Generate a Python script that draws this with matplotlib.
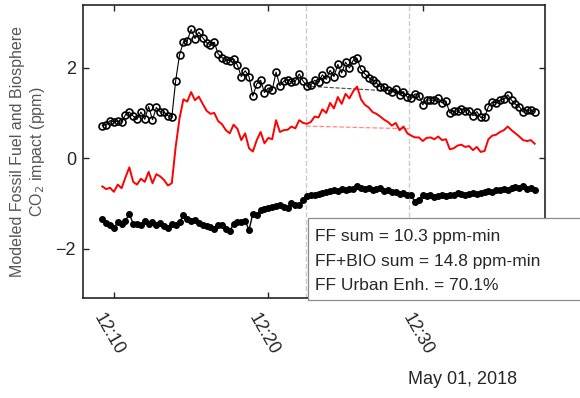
import numpy as np
import matplotlib
matplotlib.use("Agg")
import matplotlib.pyplot as plt
import matplotlib.dates as mdates
import matplotlib.transforms as mtransforms
from matplotlib.patches import Rectangle

plt.rcParams['font.family'] = ['Liberation Sans', 'DejaVu Sans']

# 15 s samples starting 12:09:15
start = np.datetime64('2018-05-01T12:09:15')
step = np.timedelta64(15, 's')

# fossil fuel enhancement (ppm)
ff = [0.72, 0.74, 0.83,
      0.80, 0.82, 0.79, 0.96,
      1.02, 0.93, 0.86, 1.02,
      0.86, 1.14, 0.85, 1.12,
      1.02, 1.02, 0.94, 0.90,
      1.71, 2.28, 2.56, 2.59,
      2.84, 2.64, 2.78, 2.66,
      2.55, 2.50, 2.56, 2.30,
      2.22, 2.17, 2.15, 2.19,
      2.05, 1.80, 1.93, 1.80,
      1.37, 1.64, 1.72, 1.45,
      1.55, 1.50, 1.90, 1.60,
      1.70, 1.73, 1.68, 1.70,
      1.86, 1.70, 1.60, 1.62,
      1.72, 1.68, 1.84, 1.74,
      1.94, 1.80, 2.07, 1.88,
      2.12, 1.99, 2.16, 2.20,
      1.96, 1.86, 1.78, 1.72,
      1.66, 1.58, 1.57, 1.50,
      1.46, 1.53, 1.40, 1.46,
      1.35, 1.32, 1.42, 1.38,
      1.18, 1.29, 1.28, 1.28,
      1.32, 1.22, 1.26, 1.00,
      1.04, 1.04, 1.08, 1.05,
      1.05, 0.94, 1.03, 0.90,
      0.90, 1.14, 1.24, 1.22,
      1.28, 1.30, 1.40, 1.28,
      1.19, 1.14, 1.02, 1.06,
      1.06, 1.02]

# fossil fuel + biosphere (ppm)
ff_bio = [-0.62, -0.68, -0.65,
          -0.74, -0.58, -0.66, -0.42,
          -0.20, -0.52, -0.58, -0.45,
          -0.52, -0.30, -0.55, -0.35,
          -0.40, -0.48, -0.60, -0.55,
          0.25, 0.88, 1.30, 1.25,
          1.46, 1.28, 1.36, 1.20,
          1.05, 0.98, 1.00, 0.82,
          0.75, 0.62, 0.55, 0.74,
          0.65, 0.40, 0.55, 0.22,
          0.15, 0.40, 0.58, 0.33,
          0.45, 0.42, 0.84, 0.58,
          0.62, 0.63, 0.70, 0.66,
          0.84, 0.78, 0.76, 0.80,
          0.92, 0.90, 1.08, 1.00,
          1.22, 1.10, 1.35, 1.20,
          1.42, 1.32, 1.48, 1.58,
          1.30, 1.18, 1.12, 1.02,
          0.98, 0.92, 0.85, 0.80,
          0.72, 0.78, 0.62, 0.70,
          0.55, 0.50, 0.46, 0.46,
          0.38, 0.45, 0.46, 0.42,
          0.48, 0.40, 0.42, 0.20,
          0.22, 0.28, 0.30, 0.25,
          0.27, 0.18, 0.25, 0.14,
          0.16, 0.42, 0.50, 0.52,
          0.58, 0.62, 0.70, 0.62,
          0.55, 0.48, 0.40, 0.38,
          0.40, 0.32]

# biosphere (ppm)
bio = [-1.34, -1.42, -1.48,
       -1.54, -1.40, -1.45, -1.38,
       -1.22, -1.45, -1.44, -1.47,
       -1.38, -1.44, -1.40, -1.47,
       -1.42, -1.50, -1.54, -1.45,
       -1.46, -1.40, -1.26, -1.34,
       -1.38, -1.36, -1.42, -1.46,
       -1.50, -1.52, -1.56, -1.48,
       -1.47, -1.55, -1.60, -1.45,
       -1.40, -1.40, -1.38, -1.58,
       -1.22, -1.24, -1.14, -1.12,
       -1.10, -1.08, -1.06, -1.02,
       -1.08, -1.10, -0.98, -1.04,
       -1.02, -0.92, -0.84, -0.82,
       -0.80, -0.78, -0.76, -0.74,
       -0.72, -0.70, -0.72, -0.68,
       -0.70, -0.67, -0.68, -0.62,
       -0.66, -0.68, -0.66, -0.70,
       -0.68, -0.66, -0.72, -0.70,
       -0.74, -0.75, -0.78, -0.76,
       -0.80, -0.82, -0.96, -0.92,
       -0.80, -0.84, -0.82, -0.86,
       -0.84, -0.82, -0.84, -0.80,
       -0.82, -0.76, -0.78, -0.80,
       -0.78, -0.76, -0.78, -0.76,
       -0.74, -0.72, -0.74, -0.70,
       -0.70, -0.68, -0.70, -0.66,
       -0.64, -0.66, -0.62, -0.68,
       -0.66, -0.70]

# urban window and background lines
window = [np.datetime64('2018-05-01T12:22:27'), np.datetime64('2018-05-01T12:29:06')]
ff_base = [1.59, 1.46]
ff_bio_base = [0.71, 0.65]

stats = ['FF sum = 10.3 ppm-min',
         'FF+BIO sum = 14.8 ppm-min',
         'FF Urban Enh. = 70.1%']

t = start + np.arange(len(ff)) * step
t = t.astype('datetime64[s]').astype(object)
win = [w.astype(object) for w in window]

fig = plt.figure(figsize=(5.8, 3.98), dpi=100)
ax = fig.add_axes([0.1431, 0.2513, 0.7966, 0.7362])

for w in win:
    ax.axvline(w, color='#cccccc', ls='--', lw=1.0, zorder=1)
ax.plot(win, ff_base, color='#444444', ls='--', lw=0.8, zorder=2)
ax.plot(win, ff_bio_base, color='#ff8888', ls='--', lw=0.9, zorder=2)

ax.plot(t, ff, color='k', lw=0.8, marker='o', ms=5, mfc='none', mec='k', mew=1.2, zorder=3)
ax.plot(t, ff_bio, color='#ff0000', lw=1.4, zorder=3)
ax.plot(t, bio, color='k', lw=1.0, marker='o', ms=4, mfc='k', mec='k', zorder=3)

ax.set_xlim(np.datetime64('2018-05-01T12:08:00').astype(object),
            np.datetime64('2018-05-01T12:37:55').astype(object))
ax.set_ylim(-3.08, 3.38)
ax.set_yticks([-2, 0, 2])
ax.set_xticks([np.datetime64('2018-05-01T12:%d:00' % m).astype(object) for m in (10, 20, 30)])
ax.xaxis.set_major_formatter(mdates.DateFormatter('%H:%M'))

ax.tick_params(direction='in', length=4, width=1, colors='#262626', labelsize=13,
               top=True, right=True, pad=5)
shift = mtransforms.ScaledTranslation(-5 / 100, -6 / 100, fig.dpi_scale_trans)
for lab in ax.get_xticklabels():
    lab.set_rotation(-60)
    lab.set_ha('center')
    lab.set_va('top')
    lab.set_transform(lab.get_transform() + shift)
for s in ax.spines.values():
    s.set_color('#262626')
    s.set_linewidth(1.2)

ax.set_ylabel('Modeled Fossil Fuel and Biosphere\nCO$_2$ impact (ppm)', fontsize=11.5,
              color='#555555', labelpad=6)

fig.text(463 / 580, 1 - 380 / 398, 'May 01, 2018', fontsize=13, color='#262626',
         ha='center', va='center')

# summary box
box = Rectangle((308 / 580, 1 - 300 / 398), 0.6, 82 / 398, transform=fig.transFigure,
                facecolor='white', edgecolor='#8c8c8c', lw=0.9, zorder=10)
fig.patches.append(box)
for i, line in enumerate(stats):
    fig.text(315 / 580, 1 - (237 + 24.5 * i) / 398, line, fontsize=12.5, color='#262626',
             ha='left', va='center', zorder=11)

fig.savefig('out.png', dpi=100)
